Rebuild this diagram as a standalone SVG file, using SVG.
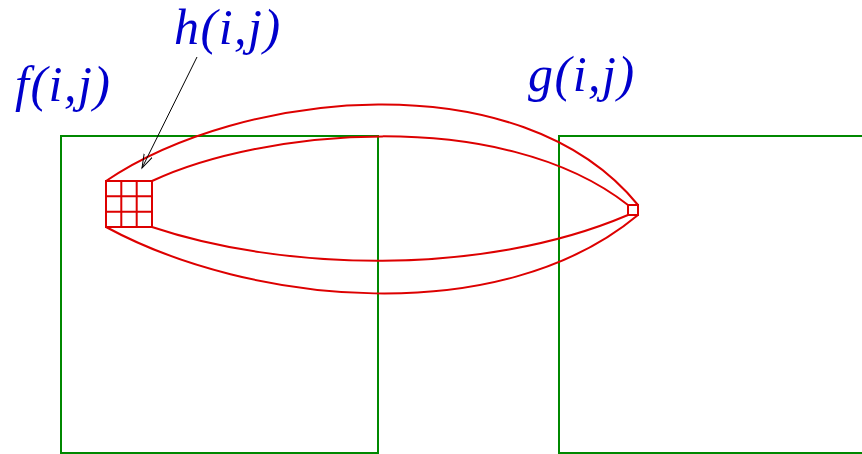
<svg xmlns="http://www.w3.org/2000/svg" width="862" height="454" viewBox="0 0 862 454">
<style>
.lbl{font-family:"Liberation Serif","Times New Roman",serif;font-style:italic;font-size:50px;letter-spacing:1.5px;fill:#0000cc}
.box{fill:none;stroke:#008800;stroke-width:2}
.red{fill:none;stroke:#dd0000;stroke-width:2}
.ptr{fill:none;stroke:#000;stroke-width:1}
</style>
<defs>
<marker id="open" markerWidth="16" markerHeight="12" refX="14" refY="6" orient="auto" markerUnits="userSpaceOnUse">
<path d="M0,1.5 L14,6 L0,10.5" fill="none" stroke="#000" stroke-width="1"/>
</marker>
</defs>
<rect width="862" height="454" fill="#fff"/>
<g id="f-box">
<rect class="box" x="61" y="136" width="317" height="317"/>
<text class="lbl" x="15" y="101">f(i,j)</text>
</g>
<g id="g-box">
<rect class="box" x="559" y="136" width="320" height="317"/>
<text class="lbl" x="528" y="91">g(i,j)</text>
</g>
<g id="h-grid">
<rect class="red" x="106" y="181" width="46" height="46"/>
<path class="red" d="M121.3,181V227M136.7,181V227M106,196.3H152M106,211.7H152"/>
</g>
<g id="target">
<rect class="red" x="628" y="205" width="10" height="10"/>
</g>
<g id="h-label">
<text class="lbl" x="174" y="44">h(i,j)</text>
</g>
<g id="connectors">
<path class="red" d="M106,181 C240,90 520,60 638,205"/>
<path class="red" d="M152,181 C260,130 500,105 628,205"/>
<path class="red" d="M152,227 C280,270 480,278 628,215"/>
<path class="red" d="M106,227 C250,305 500,330 638,215"/>
<line class="ptr" x1="197" y1="57" x2="142" y2="168" marker-end="url(#open)"/>
</g>
</svg>
